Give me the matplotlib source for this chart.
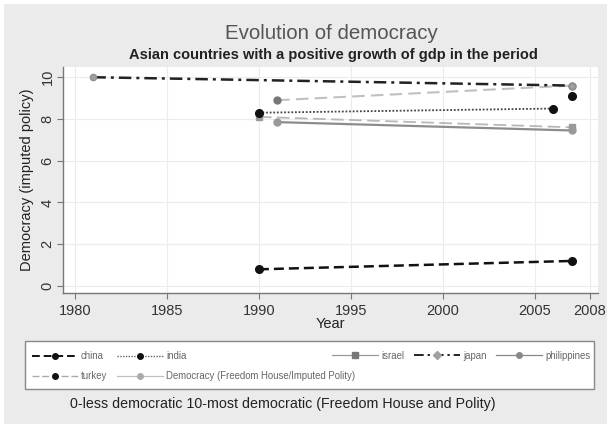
import matplotlib
matplotlib.use("Agg")
import matplotlib.pyplot as plt
from matplotlib.lines import Line2D
from matplotlib.patches import Rectangle

plt.rcParams['font.family'] = ['Liberation Sans', 'DejaVu Sans']

china_years = [1990, 2007]
china_dem = [0.8, 1.2]
india_years = [1990, 2006]
india_dem = [8.3, 8.5]
israel_years = [1990, 2007]
israel_dem = [8.1, 7.6]
japan_years = [1981, 2007]
japan_dem = [10.0, 9.6]
philippines_years = [1991, 2007]
philippines_dem = [7.85, 7.45]
turkey_years = [1991, 2007]
turkey_dem = [8.9, 9.6]
turkey_last_year = [2007]
turkey_last_dem = [9.1]

x_ticks = [1980, 1985, 1990, 1995, 2000, 2005, 2008]
y_ticks = [0, 2, 4, 6, 8, 10]

W, H = 607, 424
fig = plt.figure(figsize=(W / 100, H / 100), dpi=100)
fig.patch.set_facecolor('white')
# gray Stata background with a thin white border top/left
fig.patches.append(Rectangle((4 / W, 0), 1, 1 - 4 / H, transform=fig.transFigure,
                             facecolor='#ebebeb', edgecolor='none', zorder=-10))

def fx(px):
    return px / W

def fy(py):
    return 1 - py / H

ax = fig.add_axes([fx(63), fy(293), fx(598) - fx(63), fy(67) - fy(293)])
ax.set_facecolor('white')

ax.plot(japan_years, japan_dem, color='#222222', lw=1.8, ls=(0, (5, 2, 1.2, 2)),
        marker='o', ms=4.5, mfc='#a0a0a0', mec='#909090', zorder=5)
ax.plot(turkey_years, turkey_dem, color='#c0c0c0', lw=1.5, ls=(0, (6, 3)),
        marker='o', ms=5, mfc='#777777', mec='#777777', zorder=3)
ax.plot(turkey_last_year, turkey_last_dem, ls='none', marker='o', ms=5.5,
        color='#111111', zorder=6)
ax.plot(india_years, india_dem, color='#444444', lw=1.3, ls=(0, (1, 1)),
        marker='o', ms=5.5, mfc='#111111', mec='#111111', zorder=4)
ax.plot(israel_years, israel_dem, color='#b8b8b8', lw=1.3, ls=(0, (7, 3)),
        marker='s', ms=4.5, mfc='#999999', mec='#999999', zorder=3)
ax.plot(philippines_years, philippines_dem, color='#8c8c8c', lw=1.6, ls='-',
        marker='o', ms=5, mfc='#999999', mec='#999999', zorder=3)
ax.plot(china_years, china_dem, color='#111111', lw=1.8, ls=(0, (4, 2)),
        marker='o', ms=5.5, mfc='#111111', mec='#111111', zorder=4)

ax.set_xlim(1979.35, 2008.44)
ax.set_ylim(-0.335, 10.49)
ax.set_xticks(x_ticks)
ax.set_yticks(y_ticks)
ax.grid(True, color='#ececec', lw=0.8)
ax.set_axisbelow(True)
for s in ['top', 'right']:
    ax.spines[s].set_visible(False)
for s in ['left', 'bottom']:
    ax.spines[s].set_color('#777777')
    ax.spines[s].set_linewidth(1.0)
ax.tick_params(axis='both', colors='#777777', length=4, width=0.8, labelcolor='#333333',
               labelsize=10.5)
ax.tick_params(axis='y', labelrotation=90, pad=2)
for lab in ax.get_yticklabels():
    lab.set_va('center')
ax.tick_params(axis='x', pad=4)
ax.set_xlabel('Year', fontsize=10.5, color='#222222', labelpad=-1)
ax.set_ylabel('Democracy (imputed policy)', fontsize=10.5, color='#222222', labelpad=5)

fig.text(fx(331), fy(33.5), 'Evolution of democracy', ha='center', va='center',
         fontsize=14.8, color='#555555')
fig.text(fx(333), fy(55), 'Asian countries with a positive growth of gdp in the period',
         ha='center', va='center', fontsize=10.5, fontweight='bold', color='#222222')
fig.text(fx(282.5), fy(404), '0-less democratic 10-most democratic (Freedom House and Polity)',
         ha='center', va='center', fontsize=10.3, color='#222222')

# legend box
fig.patches.append(Rectangle((fx(25), fy(389)), fx(594) - fx(25), fy(341) - fy(389),
                             transform=fig.transFigure, facecolor='white',
                             edgecolor='#888888', lw=1.0, zorder=1))

def handle(color, ls, lw, mfc, marker='o'):
    return Line2D([0], [0], color=color, ls=ls, lw=lw, marker=marker, ms=4,
                  mfc=mfc, mec=mfc)

h_china = handle('#111111', (0, (4, 2)), 1.4, '#111111')
h_india = handle('#666666', (0, (1, 1)), 1.0, '#111111')
h_israel = handle('#999999', '-', 0.9, '#777777', 's')
h_japan = handle('#222222', (0, (5, 2, 1.2, 2)), 1.4, '#a0a0a0', 'D')
h_phil = handle('#888888', '-', 0.9, '#888888')
h_turkey = handle('#aaaaaa', (0, (5, 2)), 1.0, '#111111')
h_dem = handle('#c0c0c0', '-', 0.9, '#aaaaaa')

leg_kw = dict(frameon=False, fontsize=6.9, handlelength=4.8, handletextpad=0.35,
              borderpad=0, borderaxespad=0, numpoints=1, labelcolor='#666666')

legA = fig.legend([h_china, h_turkey, h_india, h_dem],
                  ['china', 'turkey', 'india', 'Democracy (Freedom House/Imputed Polity)'],
                  ncol=2, loc='center left', bbox_to_anchor=(fx(31.7), fy(366.2)),
                  columnspacing=1.0, labelspacing=1.1, **leg_kw)
legB = fig.legend([h_israel, h_japan, h_phil], ['israel', 'japan', 'philippines'],
                  ncol=3, loc='center left', bbox_to_anchor=(fx(331.7), fy(355.7)),
                  columnspacing=1.0, **leg_kw)
legA.set_zorder(5)
legB.set_zorder(5)

fig.savefig('out.png', dpi=100, facecolor=fig.get_facecolor())
